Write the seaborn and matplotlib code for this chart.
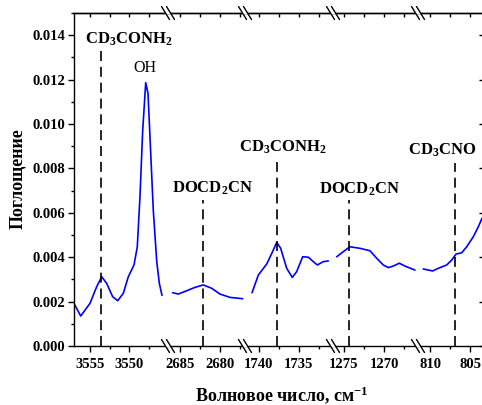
import matplotlib
matplotlib.use("Agg")
import matplotlib.pyplot as plt
import seaborn as sns
from matplotlib.lines import Line2D
from matplotlib.patches import Polygon
from matplotlib.ticker import MultipleLocator, FormatStrFormatter

sns.set_style("ticks")
plt.rcParams["font.family"] = ["Liberation Serif", "DejaVu Serif"]
plt.rcParams["font.weight"] = "bold"
plt.rcParams["axes.labelweight"] = "bold"
plt.rcParams["mathtext.default"] = "regular"
for key in ("text.color", "axes.labelcolor", "xtick.color", "ytick.color",
            "axes.edgecolor"):
    plt.rcParams[key] = "black"

# ---- spectrum pieces (wavenumber, cm-1 / absorbance) ----
wn_oh = [3557.03, 3556.18, 3555.00, 3554.15, 3553.51, 3552.88, 3552.12, 3551.48,
         3550.77, 3550.13, 3549.41, 3548.99, 3548.65, 3548.30, 3547.92, 3547.63,
         3547.38, 3546.96, 3546.52, 3546.19, 3545.85]
ab_oh = [0.00192, 0.00135, 0.00192, 0.00267, 0.00312, 0.00282, 0.00222, 0.00204,
         0.00237, 0.00312, 0.00365, 0.00447, 0.00673, 0.00973, 0.01186, 0.01138,
         0.00943, 0.00613, 0.00380, 0.00282, 0.00228]

wn_2680 = [2685.91, 2685.21, 2684.16, 2683.13, 2682.09, 2681.04, 2680.00, 2678.75, 2677.16]
ab_2680 = [0.00240, 0.00234, 0.00249, 0.00264, 0.00275, 0.00260, 0.00234, 0.00219, 0.00213]

wn_1735 = [1740.81, 1740.02, 1738.98, 1738.15, 1737.73, 1737.23, 1736.48, 1735.78,
           1735.23, 1734.48, 1733.78, 1733.15, 1732.65, 1731.90, 1731.28]
ab_1735 = [0.00240, 0.00320, 0.00369, 0.00432, 0.00467, 0.00440, 0.00350, 0.00309,
           0.00335, 0.00402, 0.00400, 0.00380, 0.00365, 0.00380, 0.00383]

wn_1270 = [1275.91, 1275.09, 1274.25, 1273.00, 1271.75, 1270.91, 1270.09, 1269.46,
           1268.84, 1268.09, 1267.38, 1266.13]
ab_1270 = [0.00402, 0.00425, 0.00447, 0.00440, 0.00429, 0.00395, 0.00365, 0.00353,
           0.00360, 0.00373, 0.00360, 0.00342]

wn_805 = [810.84, 810.21, 809.66, 808.96, 807.91, 807.29, 806.75, 806.04, 805.41,
          804.59, 803.96, 803.50]
ab_805 = [0.00347, 0.00342, 0.00338, 0.00350, 0.00365, 0.00387, 0.00414, 0.00420,
          0.00447, 0.00492, 0.00537, 0.00575]

# band assignments: position, top of the marker line, label
band_pos = [3553.6, 2682.1, 1737.7, 1274.4, 806.9]
band_top = [0.01347, 0.00658, 0.00829, 0.00658, 0.00824]
band_labels = [r"CD$_3$CONH$_2$", r"DOCD$_2$CN", r"CD$_3$CONH$_2$", r"DOCD$_2$CN", r"CD$_3$CNO"]
label_x = [3550.04, 2680.94, 1737.0, 1273.06, 808.44]
label_y = [0.01363, 0.00689, 0.00875, 0.00688, 0.00860]

segments = [(wn_oh, ab_oh), (wn_2680, ab_2680), (wn_1735, ab_1735),
            (wn_1270, ab_1270), (wn_805, ab_805)]
xlims = [(3557.03, 3545.09), (2686.5, 2676.875), (1741.69, 1730.69),
         (1276.375, 1265.75), (811.5, 803.375)]

W, H = 482, 405
fig = plt.figure(figsize=(W / 100, H / 100), dpi=100)
edges = [74, 168, 245, 333, 418, 483]
y_top, y_bot = 13, 346
n = len(segments)
axes = []
for i, ((wn, ab), lim) in enumerate(zip(segments, xlims)):
    ax = fig.add_axes([edges[i] / W, 1 - y_bot / H, (edges[i + 1] - edges[i]) / W,
                       (y_bot - y_top) / H])
    ax.set_facecolor("none")
    sns.lineplot(x=wn, y=ab, ax=ax, color="#0000ff", lw=1.2, sort=False,
                 estimator=None)
    ax.vlines(band_pos[i], 0, band_top[i], colors="black", lw=1.2,
              linestyles=(0, (6, 3.5)))
    ax.text(label_x[i], label_y[i], band_labels[i], ha="center", va="baseline",
            fontsize=12, fontweight="bold")
    ax.set_xlim(*lim)
    ax.set_ylim(0, 0.0150)
    ax.set_xlabel("")
    ax.set_ylabel("")
    for s in ax.spines.values():
        s.set_linewidth(1.0)
        s.set_color("black")
    ax.spines["left"].set_visible(i == 0)
    ax.spines["right"].set_visible(i == n - 1)
    ax.xaxis.set_major_locator(MultipleLocator(5))
    ax.xaxis.set_minor_locator(MultipleLocator(2.5))
    ax.tick_params(axis="x", which="major", direction="out", length=4.5, width=1.0,
                   labelsize=10.5, pad=4, colors="black")
    ax.tick_params(axis="x", which="minor", direction="out", length=2.5, width=1.0)
    top = ax.secondary_xaxis("top")
    top.xaxis.set_major_locator(MultipleLocator(2.5))
    top.tick_params(axis="x", direction="in", length=3, width=1.0, labeltop=False)
    top.spines["top"].set_linewidth(1.0)
    top.spines["top"].set_color("black")
    if i == 0:
        ax.yaxis.set_major_locator(MultipleLocator(0.002))
        ax.yaxis.set_minor_locator(MultipleLocator(0.001))
        ax.yaxis.set_major_formatter(FormatStrFormatter("%.3f"))
        ax.tick_params(axis="y", which="major", direction="out", length=4.5,
                       width=1.0, labelsize=10.5, pad=2)
        ax.tick_params(axis="y", which="minor", direction="out", length=2.5, width=1.0)
    elif i == n - 1:
        ax.yaxis.set_major_locator(MultipleLocator(0.002))
        ax.tick_params(axis="y", which="major", left=False, right=True,
                       direction="in", length=3, width=1.0, labelleft=False)
    else:
        ax.tick_params(axis="y", which="both", left=False, labelleft=False)
    axes.append(ax)

axes[0].text(3548.01, 0.01236, "OH", ha="center", va="baseline", fontsize=11.5,
             fontweight="normal")

# axis break marks on top and bottom spines
k = 4 / 6.5
for b in edges[1:n]:
    for yy in (y_top, y_bot):
        Y = H - yy
        poly = [(b - 2.5 + 1.5 * k, Y - 1.5), (b + 2.5 + 1.5 * k, Y - 1.5),
                (b + 2.5 - 1.5 * k, Y + 1.5), (b - 2.5 - 1.5 * k, Y + 1.5)]
        fig.add_artist(Polygon([(px / W, py / H) for px, py in poly], closed=True,
                               facecolor="white", edgecolor="none",
                               transform=fig.transFigure, zorder=10))
        for dx in (-2.5, 2.5):
            xs = [(b + dx - 4) / W, (b + dx + 4) / W]
            ys = [(Y + 6.5) / H, (Y - 6.5) / H]
            fig.add_artist(Line2D(xs, ys, color="black", lw=1.0,
                                  transform=fig.transFigure, zorder=11))

fig.text(282 / W, 1 - 395 / H, "Волновое число, см$^{-1}$", ha="center",
         va="center", fontsize=13, fontweight="bold")
fig.text(17.5 / W, 1 - 179 / H, "Поглощение", ha="center", va="center",
         rotation=90, fontsize=13, fontweight="bold")

fig.savefig("out.png", dpi=100)
